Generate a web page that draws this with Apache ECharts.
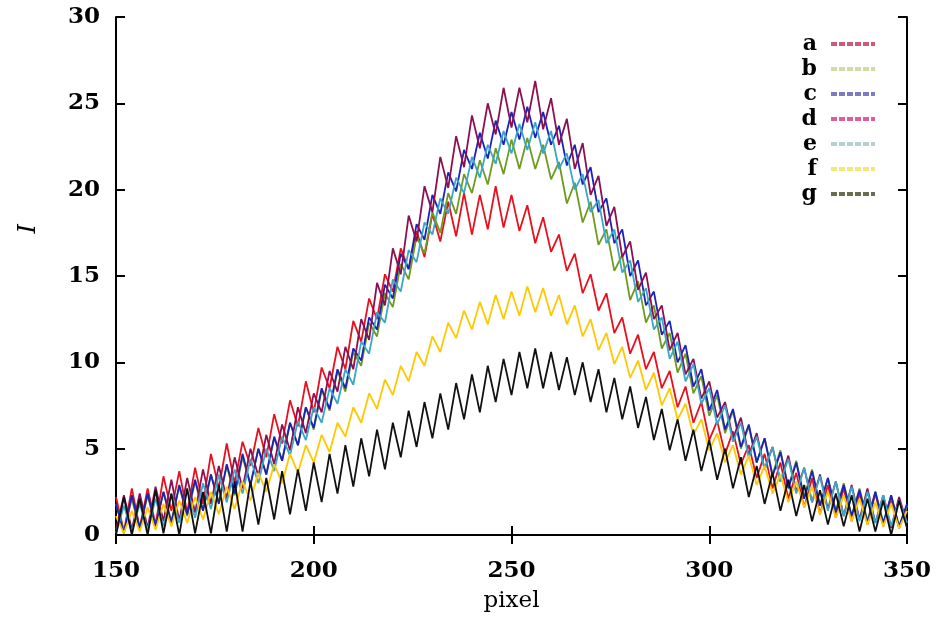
<!DOCTYPE html>
<html>
<head>
<meta charset="utf-8">
<script src="https://cdn.jsdelivr.net/npm/echarts@6/dist/echarts.min.js"></script>
<style>
	html, body { margin: 0; padding: 0; background: #fff; }
	#chart { width: 938px; height: 618px; }
</style>
</head>
<body>
<div id="chart"></div>
<script type="text/javascript">
// pixel positions (x axis)
var xs = [150,152,154,156,158,160,162,164,166,168,170,172,174,176,178,180,182,184,186,188,
	190,192,194,196,198,200,202,204,206,208,210,212,214,216,218,220,222,224,226,228,
	230,232,234,236,238,240,242,244,246,248,250,252,254,256,258,260,262,264,266,268,
	270,272,274,276,278,280,282,284,286,288,290,292,294,296,298,300,302,304,306,308,
	310,312,314,316,318,320,322,324,326,328,330,332,334,336,338,340,342,344,346,348,350];

var names = ['a', 'b', 'c', 'd', 'e', 'f', 'g'];
var xTicks = [150, 200, 250, 300, 350];
var yTicks = [0, 5, 10, 15, 20, 25, 30];

var a = [2.2,0.2,2.7,0.4,2.7,0.6,3.4,1.4,3.7,1.3,3.9,1.8,4.7,2.7,5.3,3.0,5.4,4.0,6.2,4.5,
	7.0,5.3,7.8,6.3,8.9,7.1,9.7,8.5,10.9,9.6,12.4,11.2,13.7,12.5,15.1,14.1,16.6,15.4,17.6,16.1,
	18.6,17.0,19.3,17.3,19.8,17.4,19.7,17.7,20.2,17.8,19.7,17.6,19.1,16.9,18.4,16.4,17.4,15.3,16.3,14.0,
	15.1,13.0,14.0,11.7,12.6,10.5,11.6,9.6,10.6,8.5,9.5,7.4,8.6,6.5,7.7,5.5,6.6,4.7,6.0,4.1,
	5.2,3.3,4.7,2.7,4.2,2.1,3.6,1.6,3.3,1.2,2.9,1.0,2.7,0.8,2.4,0.6,2.4,0.5,2.1,0.4,1.7];
var b = [1.8,0.2,2.1,0.3,2.3,0.5,2.5,0.8,2.8,1.1,3.1,1.4,3.5,1.9,4.0,2.3,4.5,2.9,5.0,3.5,
	5.6,4.3,6.5,5.2,7.4,6.1,8.4,7.2,9.5,8.3,10.6,9.8,12.3,11.5,14.0,13.2,15.7,14.8,17.3,16.3,
	18.7,17.5,19.8,18.6,20.9,19.8,21.7,20.3,22.4,20.9,22.9,21.2,23.0,21.2,22.6,20.6,21.6,19.2,20.4,18.1,
	19.3,16.8,17.7,15.3,16.2,13.6,14.7,12.3,13.3,10.8,11.7,9.4,10.5,8.2,9.2,6.9,8.1,5.9,7.2,5.0,
	6.3,4.2,5.6,3.5,4.9,2.8,4.3,2.2,3.8,1.7,3.3,1.4,3.0,1.1,2.7,0.8,2.5,0.6,2.3,0.4,1.7];
var c = [1.8,0.1,2.3,0.4,2.4,0.5,2.5,0.7,2.9,1.2,3.2,1.4,3.5,1.8,4.1,2.4,4.7,2.9,5.0,3.5,
	5.7,4.3,6.5,5.2,7.4,6.2,8.5,7.3,9.6,8.5,10.8,10.1,12.6,11.9,14.5,13.7,16.3,15.4,18.0,17.1,
	19.7,18.6,21.0,19.9,22.3,21.2,23.3,21.8,24.0,22.6,24.5,22.9,24.8,23.0,24.5,22.6,23.7,21.4,22.6,20.3,
	21.3,18.7,19.5,16.9,17.7,15.0,15.9,13.3,14.1,11.6,12.4,10.0,11.0,8.6,9.6,7.2,8.4,6.1,7.3,5.1,
	6.4,4.2,5.6,3.4,4.8,2.7,4.2,2.1,3.7,1.7,3.3,1.3,2.9,1.1,2.6,0.7,2.5,0.7,2.3,0.5,1.8];
var d = [0.3,2.3,0.3,2.4,0.4,2.8,0.8,3.2,0.8,3.3,1.3,3.8,1.8,4.0,2.1,4.5,2.7,5.0,3.4,5.8,
	4.1,6.4,4.9,7.4,5.9,8.2,7.1,9.5,8.3,10.9,9.6,12.5,11.3,14.6,13.3,16.6,15.1,18.5,17.0,20.2,
	18.7,21.9,20.1,23.1,21.3,24.3,22.4,25.0,23.2,25.9,23.6,25.9,23.9,26.3,23.5,25.3,22.6,24.1,21.2,22.7,
	19.7,20.8,17.9,19.0,16.1,17.0,14.2,15.2,12.5,13.3,10.7,11.7,9.3,10.2,7.9,8.9,6.8,7.7,5.6,6.8,
	4.6,5.9,3.8,5.1,3.1,4.6,2.5,3.9,1.9,3.5,1.5,3.1,1.1,2.9,0.9,2.7,0.7,2.3,0.4,2.2,0.7];
var e = [0.1,1.7,0.2,1.8,0.3,2.1,0.5,2.4,0.7,2.6,1.0,3.0,1.5,3.5,1.9,3.8,2.4,4.4,3.0,5.0,
	3.7,5.7,4.6,6.6,5.5,7.4,6.5,8.5,7.6,9.6,8.7,11.2,10.5,12.9,12.3,14.8,14.1,16.5,15.8,18.1,
	17.4,19.5,18.6,20.7,19.8,21.9,20.7,22.6,21.5,23.4,22.1,23.8,22.3,23.9,22.1,23.4,21.2,22.1,20.0,20.9,
	18.7,19.4,16.9,17.7,15.2,15.9,13.5,14.3,11.9,12.6,10.2,11.2,8.9,9.9,7.6,8.5,6.4,7.5,5.4,6.5,
	4.5,5.7,3.8,5.1,3.1,4.4,2.4,3.9,1.9,3.4,1.4,3.1,1.1,2.8,0.8,2.5,0.7,2.3,0.5,2.0,0.7];
var f = [1.1,0.1,1.4,0.2,1.6,0.3,1.8,0.5,2.0,0.7,2.2,0.9,2.5,1.2,2.8,1.5,3.1,2.0,3.6,2.5,
	4.1,3.0,4.7,3.6,5.2,4.2,5.8,4.8,6.5,5.7,7.4,6.5,8.2,7.3,9.0,8.1,9.8,8.9,10.6,9.8,
	11.5,10.6,12.3,11.4,13.0,11.9,13.5,12.2,13.9,12.5,14.1,12.7,14.4,12.9,14.3,12.7,13.9,12.2,13.3,11.5,
	12.5,10.7,11.7,9.9,10.9,9.1,10.1,8.4,9.4,7.5,8.5,6.7,7.6,5.8,6.7,4.9,5.9,4.2,5.2,3.5,
	4.6,2.9,4.0,2.4,3.5,1.9,3.1,1.6,2.8,1.2,2.5,1.0,2.3,0.8,2.1,0.6,1.9,0.5,1.8,0.4,1.4];
var g = [0.0,2.2,0.0,2.1,0.0,2.6,0.1,2.4,0.0,2.7,0.1,2.5,0.1,2.9,0.2,3.1,0.2,3.1,0.6,3.3,
	0.9,3.7,1.2,3.8,1.4,4.2,1.9,4.7,2.4,5.2,2.8,5.6,3.4,6.1,3.8,6.5,4.5,7.2,5.1,7.7,
	5.6,8.2,6.1,8.8,6.7,9.3,7.1,9.8,7.7,10.2,8.1,10.6,8.5,10.8,8.5,10.6,8.4,10.3,8.1,10.0,
	7.7,9.6,7.1,9.1,6.7,8.6,6.2,8.0,5.5,7.3,4.9,6.7,4.3,6.1,3.7,5.5,3.2,5.0,2.7,4.5,
	2.2,4.0,1.8,3.6,1.4,3.2,1.1,2.9,0.8,2.6,0.6,2.4,0.5,2.3,0.2,2.1,0.2,2.0,0.0,2.0,0.4];

var values = [a, b, c, d, e, f, g];
var lineColors = ['#e8101e', '#6f9a1c', '#1a22b8', '#8c1050', '#3aa6c8', '#ffc800', '#111111'];
var keyColors = ['#cc5a78', '#cfdca6', '#7c7cc6', '#e05a9e', '#b6cfd0', '#f2e878', '#6c6c52'];

var font = '"DejaVu Serif", serif';
var myChart = echarts.init(document.getElementById('chart'), null, {renderer: 'canvas'});

var series = [];
var legendData = [];
var $each = function(arr, fn){ for (var i = 0; i < arr.length; i++) fn(i, arr[i]); };
$each(names, function(k, name){
	var pts = [];
	$each(xs, function(i, x){ pts.push([x, values[k][i]]); });
	series.push({
		name: name,
		type: 'line',
		symbol: 'none',
		data: pts,
		lineStyle: {width: 1.8, color: lineColors[k]},
		itemStyle: {color: lineColors[k]},
		animation: false
	});
	legendData.push({
		name: name,
		lineStyle: {color: keyColors[k], width: 4, type: [6, 2]},
		itemStyle: {color: keyColors[k], opacity: 0}
	});
});

var frameAxis = {
	axisLine: {show: true, lineStyle: {color: '#000', width: 2}},
	axisTick: {show: true, inside: true, length: 9, lineStyle: {color: '#000', width: 2}},
	axisLabel: {show: false},
	splitLine: {show: false}
};

var option = {
	backgroundColor: '#fff',
	grid: {left: 116, right: 31, top: 17, bottom: 77},
	legend: {
		orient: 'vertical',
		right: 56,
		top: 28,
		align: 'right',
		itemWidth: 44,
		itemHeight: 8,
		itemGap: 3,
		selectedMode: false,
		textStyle: {fontFamily: font, fontWeight: 'bold', fontSize: 22, lineHeight: 21.7, color: '#000', padding: [0, 9, 0, 0]},
		data: legendData
	},
	xAxis: [
		{
			type: 'value', min: xTicks[0], max: xTicks[xTicks.length - 1], interval: 50,
			name: 'pixel', nameLocation: 'middle', nameGap: 55,
			nameTextStyle: {fontFamily: font, fontSize: 23, color: '#000'},
			axisLine: {show: true, onZero: false, lineStyle: {color: '#000', width: 2}},
			axisTick: {show: true, inside: true, length: 9, lineStyle: {color: '#000', width: 2}},
			axisLabel: {fontFamily: font, fontWeight: 'bold', fontSize: 23, color: '#000', margin: 25},
			splitLine: {show: false}
		},
		Object.assign({}, frameAxis, {type: 'value', position: 'top', min: 150, max: 350, interval: 50})
	],
	yAxis: [
		{
			type: 'value', min: yTicks[0], max: yTicks[yTicks.length - 1], interval: 5,
			axisLine: {show: true, onZero: false, lineStyle: {color: '#000', width: 2}},
			axisTick: {show: true, inside: true, length: 9, lineStyle: {color: '#000', width: 2}},
			axisLabel: {fontFamily: font, fontWeight: 'bold', fontSize: 23, color: '#000', margin: 16},
			splitLine: {show: false}
		},
		Object.assign({}, frameAxis, {type: 'value', position: 'right', min: 0, max: 30, interval: 5})
	],
	graphic: [{
		type: 'text',
		left: 17,
		top: 224,
		rotation: Math.PI / 2,
		style: {text: 'I', fontFamily: font, fontStyle: 'italic', fontSize: 24, fill: '#000'}
	}],
	series: series
};
myChart.setOption(option);
</script>
</body>
</html>
